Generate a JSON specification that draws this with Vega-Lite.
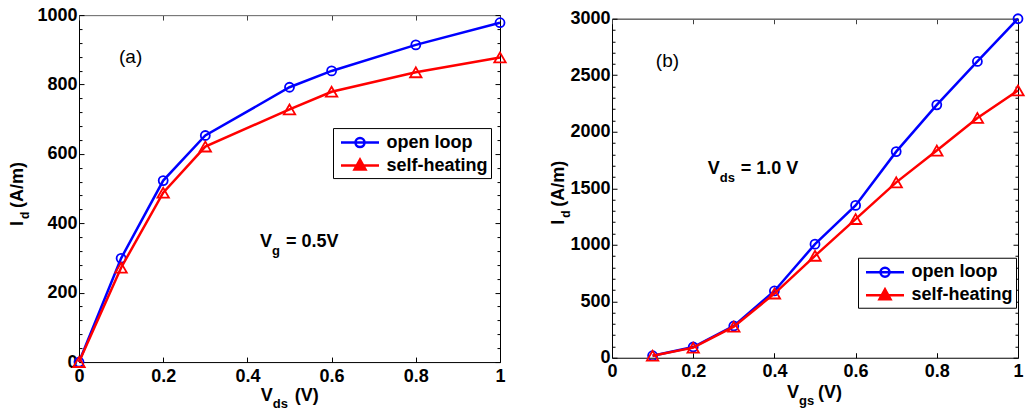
{
  "$schema": "https://vega.github.io/schema/vega-lite/v6.json",
  "background": "white",
  "padding": {"left": 8, "top": 5, "right": 2, "bottom": 2},
  "config": {
    "font": "Liberation Sans",
    "view": {"stroke": "#000", "strokeWidth": 1},
    "axis": {"labelFont": "Liberation Sans", "labelFontWeight": "bold", "labelFontSize": 18, "labelColor": "#000", "domainColor": "#000", "tickColor": "#000", "tickWidth": 1, "grid": false, "labelFlush": false, "labelOverlap": false, "labelAngle": 0},
    "legend": {"orient": "none", "strokeColor": "#000", "fillColor": "#fff", "padding": 3, "labelFont": "Liberation Sans", "labelFontWeight": "bold", "labelFontSize": 18, "labelColor": "#000", "labelLimit": 300, "symbolSize": 400, "symbolStrokeWidth": 2.5, "symbolOpacity": 1, "rowPadding": 2, "labelOffset": 15, "symbolOffset": 12.5},
    "text": {"font": "Liberation Sans", "color": "#000"}
  },
  "datasets": {
    "a": [
      {"x": 0, "y": 0, "series": "open loop"},
      {"x": 0.1, "y": 299, "series": "open loop"},
      {"x": 0.2, "y": 523, "series": "open loop"},
      {"x": 0.3, "y": 653, "series": "open loop"},
      {"x": 0.5, "y": 792, "series": "open loop"},
      {"x": 0.6, "y": 839, "series": "open loop"},
      {"x": 0.8, "y": 914, "series": "open loop"},
      {"x": 1.0, "y": 978, "series": "open loop"},
      {"x": 0, "y": 0, "series": "self-heating"},
      {"x": 0.1, "y": 272, "series": "self-heating"},
      {"x": 0.2, "y": 488, "series": "self-heating"},
      {"x": 0.3, "y": 621, "series": "self-heating"},
      {"x": 0.5, "y": 728, "series": "self-heating"},
      {"x": 0.6, "y": 779, "series": "self-heating"},
      {"x": 0.8, "y": 835, "series": "self-heating"},
      {"x": 1.0, "y": 878, "series": "self-heating"}
    ],
    "b": [
      {"x": 0.1, "y": 18, "series": "open loop"},
      {"x": 0.2, "y": 95, "series": "open loop"},
      {"x": 0.3, "y": 281, "series": "open loop"},
      {"x": 0.4, "y": 591, "series": "open loop"},
      {"x": 0.5, "y": 1005, "series": "open loop"},
      {"x": 0.6, "y": 1348, "series": "open loop"},
      {"x": 0.7, "y": 1824, "series": "open loop"},
      {"x": 0.8, "y": 2238, "series": "open loop"},
      {"x": 0.9, "y": 2622, "series": "open loop"},
      {"x": 1.0, "y": 3000, "series": "open loop"},
      {"x": 0.1, "y": 18, "series": "self-heating"},
      {"x": 0.2, "y": 89, "series": "self-heating"},
      {"x": 0.3, "y": 275, "series": "self-heating"},
      {"x": 0.4, "y": 568, "series": "self-heating"},
      {"x": 0.5, "y": 902, "series": "self-heating"},
      {"x": 0.6, "y": 1227, "series": "self-heating"},
      {"x": 0.7, "y": 1552, "series": "self-heating"},
      {"x": 0.8, "y": 1833, "series": "self-heating"},
      {"x": 0.9, "y": 2122, "series": "self-heating"},
      {"x": 1.0, "y": 2365, "series": "self-heating"}
    ]
  },
  "spacing": 39,
  "center": true,
  "resolve": {"scale": {"shape": "independent", "stroke": "independent", "fill": "independent"}},
  "hconcat": [
    {
      "width": 421,
      "height": 347,
      "data": {"name": "a"},
      "resolve": {"scale": {"x": "independent", "y": "independent"}},
      "layer": [
        {
          "layer": [
            {
              "transform": [{"filter": "datum.series === 'open loop'"}],
              "mark": {"type": "line", "strokeWidth": 2.5, "color": "#0000ff"},
              "encoding": {
                "x": {"field": "x", "type": "quantitative", "scale": {"domain": [0, 1]},
                  "axis": {"title": null, "values": [0, 0.2, 0.4, 0.6, 0.8, 1], "offset": -5, "tickSize": 5, "domain": false, "labelPadding": 5, "labelExpr": "datum.value == 0 ? '0' : datum.value == 1 ? '1' : format(datum.value, '.1f')"}},
                "y": {"field": "y", "type": "quantitative", "scale": {"domain": [0, 1000]},
                  "axis": {"title": null, "values": [0, 200, 400, 600, 800, 1000], "offset": -5, "tickSize": 5, "domain": false, "labelPadding": 2, "labelExpr": "format(datum.value, 'd')"}}
              }
            },
            {
              "transform": [{"filter": "datum.series === 'open loop'"}],
              "mark": {"type": "point", "shape": "circle", "size": 81, "filled": false, "stroke": "#0000ff", "strokeWidth": 1.8, "opacity": 1},
              "encoding": {"x": {"field": "x", "type": "quantitative"}, "y": {"field": "y", "type": "quantitative"}}
            },
            {
              "transform": [{"filter": "datum.series === 'self-heating'"}],
              "mark": {"type": "line", "strokeWidth": 2.5, "color": "#ff0000"},
              "encoding": {"x": {"field": "x", "type": "quantitative"}, "y": {"field": "y", "type": "quantitative"}}
            },
            {
              "transform": [{"filter": "datum.series === 'self-heating'"}],
              "mark": {"type": "point", "shape": "triangle-up", "size": 130, "filled": false, "stroke": "#ff0000", "strokeWidth": 1.8, "opacity": 1},
              "encoding": {"x": {"field": "x", "type": "quantitative"}, "y": {"field": "y", "type": "quantitative"}}
            },
            {
              "mark": {"type": "point", "opacity": 0},
              "encoding": {
                "x": {"field": "x", "type": "quantitative"}, "y": {"field": "y", "type": "quantitative"},
                "shape": {"field": "series", "type": "nominal", "scale": {"domain": ["open loop", "self-heating"], "range": ["M-1.9,0H1.9M0.45,0A0.45,0.45,0,1,1,-0.45,0A0.45,0.45,0,1,1,0.45,0", "M-1.9,0H1.9M0,-0.6L0.55,0.4L-0.55,0.4Z"]},
                  "legend": {"title": null, "orient": "none", "legendX": 254, "legendY": 113}},
                "stroke": {"field": "series", "type": "nominal", "scale": {"domain": ["open loop", "self-heating"], "range": ["#0000ff", "#ff0000"]}, "legend": {"title": null, "orient": "none", "legendX": 254, "legendY": 113}},
                "fill": {"field": "series", "type": "nominal", "scale": {"domain": ["open loop", "self-heating"], "range": ["transparent", "#ff0000"]}, "legend": {"title": null, "orient": "none", "legendX": 254, "legendY": 113}}
              }
            },
            {"data": {"values": [{}]}, "mark": {"type": "text", "text": "(a)", "fontSize": 19, "align": "left", "baseline": "middle"}, "encoding": {"x": {"datum": 0.095}, "y": {"datum": 879}}},
            {"data": {"values": [{}]}, "mark": {"type": "text", "text": "V", "fontSize": 18, "fontWeight": "bold", "align": "left", "baseline": "middle"}, "encoding": {"x": {"datum": 0.43}, "y": {"datum": 346}}},
            {"data": {"values": [{}]}, "mark": {"type": "text", "text": "g", "fontSize": 13, "fontWeight": "bold", "align": "left", "baseline": "middle", "dx": 12, "dy": 9}, "encoding": {"x": {"datum": 0.43}, "y": {"datum": 346}}},
            {"data": {"values": [{}]}, "mark": {"type": "text", "text": "= 0.5V", "fontSize": 18, "fontWeight": "bold", "align": "left", "baseline": "middle", "dx": 26}, "encoding": {"x": {"datum": 0.43}, "y": {"datum": 346}}},
            {"data": {"values": [{}]}, "mark": {"type": "text", "text": "V", "fontSize": 18, "fontWeight": "bold", "align": "left", "baseline": "middle"}, "encoding": {"x": {"datum": 0.432}, "y": {"datum": -99}}},
            {"data": {"values": [{}]}, "mark": {"type": "text", "text": "ds", "fontSize": 13, "fontWeight": "bold", "align": "left", "baseline": "middle", "dx": 12, "dy": 8}, "encoding": {"x": {"datum": 0.432}, "y": {"datum": -99}}},
            {"data": {"values": [{}]}, "mark": {"type": "text", "text": "(V)", "fontSize": 18, "fontWeight": "bold", "align": "left", "baseline": "middle", "dx": 34}, "encoding": {"x": {"datum": 0.432}, "y": {"datum": -99}}},
            {"data": {"values": [{}]}, "mark": {"type": "text", "text": "I", "fontSize": 18, "fontWeight": "bold", "align": "left", "baseline": "alphabetic", "angle": 270}, "encoding": {"x": {"datum": -0.133}, "y": {"datum": 392}}},
            {"data": {"values": [{}]}, "mark": {"type": "text", "text": "d", "fontSize": 12, "fontWeight": "bold", "align": "left", "baseline": "alphabetic", "angle": 270, "dx": 7, "dy": 6}, "encoding": {"x": {"datum": -0.133}, "y": {"datum": 392}}},
            {"data": {"values": [{}]}, "mark": {"type": "text", "text": "(A/m)", "fontSize": 18, "fontWeight": "bold", "align": "left", "baseline": "alphabetic", "angle": 270, "dx": 18}, "encoding": {"x": {"datum": -0.133}, "y": {"datum": 392}}}
          ]
        },
        {
          "mark": {"type": "point", "opacity": 0},
          "encoding": {
            "x": {"field": "x", "type": "quantitative", "scale": {"domain": [0, 1]},
              "axis": {"title": null, "orient": "top", "labels": false, "values": [0, 0.2, 0.4, 0.6, 0.8, 1], "tickSize": -5, "domainColor": "#808080", "tickColor": "#404040"}},
            "y": {"field": "y", "type": "quantitative", "scale": {"domain": [0, 1000]},
              "axis": {"title": null, "orient": "right", "labels": false, "values": [0, 200, 400, 600, 800, 1000], "offset": -5, "tickSize": 5, "domain": false}}
          }
        },
        {
          "mark": {"type": "point", "opacity": 0},
          "encoding": {
            "x": {"field": "x", "type": "quantitative", "scale": {"domain": [0, 1]}, "axis": null},
            "y": {"field": "y", "type": "quantitative", "scale": {"domain": [0, 1000]},
              "axis": {"title": null, "orient": "left", "labels": false, "values": [40,80,120,160,240,280,320,360,440,480,520,560,640,680,720,760,840,880,920,960], "offset": -3, "tickSize": 3, "domain": false}}
          }
        },
        {
          "mark": {"type": "point", "opacity": 0},
          "encoding": {
            "x": {"field": "x", "type": "quantitative", "scale": {"domain": [0, 1]}, "axis": null},
            "y": {"field": "y", "type": "quantitative", "scale": {"domain": [0, 1000]},
              "axis": {"title": null, "orient": "right", "labels": false, "values": [40,80,120,160,240,280,320,360,440,480,520,560,640,680,720,760,840,880,920,960], "offset": -3, "tickSize": 3, "domain": false}}
          }
        }
      ]
    },
    {
      "width": 406,
      "height": 339,
      "data": {"name": "b"},
      "resolve": {"scale": {"x": "independent", "y": "independent"}},
      "layer": [
        {
          "layer": [
            {
              "transform": [{"filter": "datum.series === 'open loop'"}],
              "mark": {"type": "line", "strokeWidth": 2.5, "color": "#0000ff"},
              "encoding": {
                "x": {"field": "x", "type": "quantitative", "scale": {"domain": [0, 1]},
                  "axis": {"title": null, "values": [0, 0.2, 0.4, 0.6, 0.8, 1], "offset": -5, "tickSize": 5, "domain": false, "labelPadding": 5, "labelExpr": "datum.value == 0 ? '0' : datum.value == 1 ? '1' : format(datum.value, '.1f')"}},
                "y": {"field": "y", "type": "quantitative", "scale": {"domain": [0, 3000]},
                  "axis": {"title": null, "values": [0, 500, 1000, 1500, 2000, 2500, 3000], "offset": -5, "tickSize": 5, "domain": false, "labelPadding": 2, "labelExpr": "format(datum.value, 'd')"}}
              }
            },
            {
              "transform": [{"filter": "datum.series === 'open loop'"}],
              "mark": {"type": "point", "shape": "circle", "size": 81, "filled": false, "stroke": "#0000ff", "strokeWidth": 1.8, "opacity": 1},
              "encoding": {"x": {"field": "x", "type": "quantitative"}, "y": {"field": "y", "type": "quantitative"}}
            },
            {
              "transform": [{"filter": "datum.series === 'self-heating'"}],
              "mark": {"type": "line", "strokeWidth": 2.5, "color": "#ff0000"},
              "encoding": {"x": {"field": "x", "type": "quantitative"}, "y": {"field": "y", "type": "quantitative"}}
            },
            {
              "transform": [{"filter": "datum.series === 'self-heating'"}],
              "mark": {"type": "point", "shape": "triangle-up", "size": 130, "filled": false, "stroke": "#ff0000", "strokeWidth": 1.8, "opacity": 1},
              "encoding": {"x": {"field": "x", "type": "quantitative"}, "y": {"field": "y", "type": "quantitative"}}
            },
            {
              "mark": {"type": "point", "opacity": 0},
              "encoding": {
                "x": {"field": "x", "type": "quantitative"}, "y": {"field": "y", "type": "quantitative"},
                "shape": {"field": "series", "type": "nominal", "scale": {"domain": ["open loop", "self-heating"], "range": ["M-1.9,0H1.9M0.45,0A0.45,0.45,0,1,1,-0.45,0A0.45,0.45,0,1,1,0.45,0", "M-1.9,0H1.9M0,-0.6L0.55,0.4L-0.55,0.4Z"]},
                  "legend": {"title": null, "orient": "none", "legendX": 246, "legendY": 239}},
                "stroke": {"field": "series", "type": "nominal", "scale": {"domain": ["open loop", "self-heating"], "range": ["#0000ff", "#ff0000"]}, "legend": {"title": null, "orient": "none", "legendX": 246, "legendY": 239}},
                "fill": {"field": "series", "type": "nominal", "scale": {"domain": ["open loop", "self-heating"], "range": ["transparent", "#ff0000"]}, "legend": {"title": null, "orient": "none", "legendX": 246, "legendY": 239}}
              }
            },
            {"data": {"values": [{}]}, "mark": {"type": "text", "text": "(b)", "fontSize": 19, "align": "left", "baseline": "middle"}, "encoding": {"x": {"datum": 0.108}, "y": {"datum": 2628}}},
            {"data": {"values": [{}]}, "mark": {"type": "text", "text": "V", "fontSize": 18, "fontWeight": "bold", "align": "left", "baseline": "middle"}, "encoding": {"x": {"datum": 0.236}, "y": {"datum": 1673}}},
            {"data": {"values": [{}]}, "mark": {"type": "text", "text": "ds", "fontSize": 13, "fontWeight": "bold", "align": "left", "baseline": "middle", "dx": 12, "dy": 9}, "encoding": {"x": {"datum": 0.236}, "y": {"datum": 1673}}},
            {"data": {"values": [{}]}, "mark": {"type": "text", "text": "= 1.0 V", "fontSize": 18, "fontWeight": "bold", "align": "left", "baseline": "middle", "dx": 33}, "encoding": {"x": {"datum": 0.236}, "y": {"datum": 1673}}},
            {"data": {"values": [{}]}, "mark": {"type": "text", "text": "V", "fontSize": 18, "fontWeight": "bold", "align": "left", "baseline": "middle"}, "encoding": {"x": {"datum": 0.431}, "y": {"datum": -310}}},
            {"data": {"values": [{}]}, "mark": {"type": "text", "text": "gs", "fontSize": 13, "fontWeight": "bold", "align": "left", "baseline": "middle", "dx": 12, "dy": 8}, "encoding": {"x": {"datum": 0.431}, "y": {"datum": -310}}},
            {"data": {"values": [{}]}, "mark": {"type": "text", "text": "(V)", "fontSize": 18, "fontWeight": "bold", "align": "left", "baseline": "middle", "dx": 31}, "encoding": {"x": {"datum": 0.431}, "y": {"datum": -310}}},
            {"data": {"values": [{}]}, "mark": {"type": "text", "text": "I", "fontSize": 18, "fontWeight": "bold", "align": "left", "baseline": "alphabetic", "angle": 270}, "encoding": {"x": {"datum": -0.118}, "y": {"datum": 1177}}},
            {"data": {"values": [{}]}, "mark": {"type": "text", "text": "d", "fontSize": 12, "fontWeight": "bold", "align": "left", "baseline": "alphabetic", "angle": 270, "dx": 7, "dy": 6}, "encoding": {"x": {"datum": -0.118}, "y": {"datum": 1177}}},
            {"data": {"values": [{}]}, "mark": {"type": "text", "text": "(A/m)", "fontSize": 18, "fontWeight": "bold", "align": "left", "baseline": "alphabetic", "angle": 270, "dx": 18}, "encoding": {"x": {"datum": -0.118}, "y": {"datum": 1177}}}
          ]
        },
        {
          "mark": {"type": "point", "opacity": 0},
          "encoding": {
            "x": {"field": "x", "type": "quantitative", "scale": {"domain": [0, 1]},
              "axis": {"title": null, "orient": "top", "labels": false, "values": [0, 0.2, 0.4, 0.6, 0.8, 1], "tickSize": -5, "domainColor": "#808080", "tickColor": "#404040"}},
            "y": {"field": "y", "type": "quantitative", "scale": {"domain": [0, 3000]},
              "axis": {"title": null, "orient": "right", "labels": false, "values": [0, 500, 1000, 1500, 2000, 2500, 3000], "offset": -5, "tickSize": 5, "domain": false}}
          }
        },
        {
          "mark": {"type": "point", "opacity": 0},
          "encoding": {
            "x": {"field": "x", "type": "quantitative", "scale": {"domain": [0, 1]}, "axis": null},
            "y": {"field": "y", "type": "quantitative", "scale": {"domain": [0, 3000]},
              "axis": {"title": null, "orient": "left", "labels": false, "values": [100,200,300,400,600,700,800,900,1100,1200,1300,1400,1600,1700,1800,1900,2100,2200,2300,2400,2600,2700,2800,2900], "offset": -3, "tickSize": 3, "domain": false}}
          }
        },
        {
          "mark": {"type": "point", "opacity": 0},
          "encoding": {
            "x": {"field": "x", "type": "quantitative", "scale": {"domain": [0, 1]}, "axis": null},
            "y": {"field": "y", "type": "quantitative", "scale": {"domain": [0, 3000]},
              "axis": {"title": null, "orient": "right", "labels": false, "values": [100,200,300,400,600,700,800,900,1100,1200,1300,1400,1600,1700,1800,1900,2100,2200,2300,2400,2600,2700,2800,2900], "offset": -3, "tickSize": 3, "domain": false}}
          }
        }
      ]
    }
  ]
}
